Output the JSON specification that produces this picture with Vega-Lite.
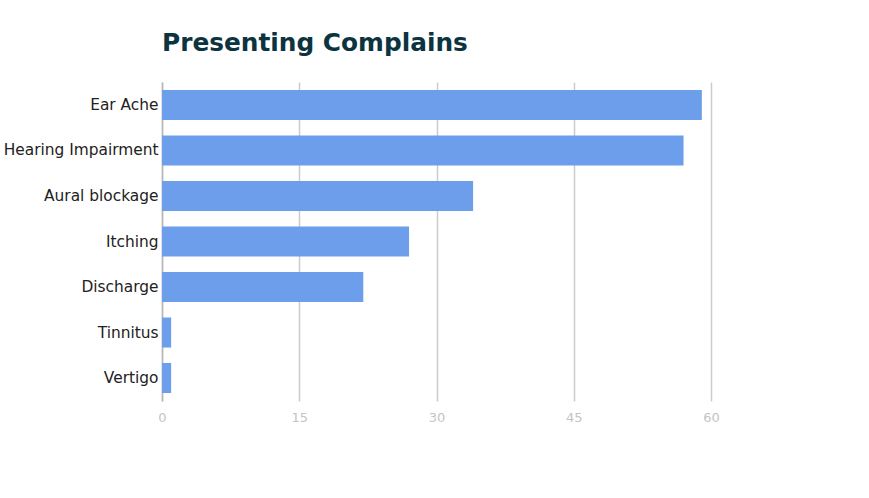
{
  "$schema": "https://vega.github.io/schema/vega-lite/v6.json",
  "autosize": {"type": "none"},
  "width": 549,
  "height": 319,
  "padding": {"left": 162, "top": 82, "right": 158, "bottom": 97},
  "background": "white",
  "title": {
    "text": "Presenting Complains",
    "anchor": "start",
    "frame": "group",
    "font": "DejaVu Sans",
    "fontSize": 24.8,
    "fontWeight": "bold",
    "color": "#0c3440",
    "offset": 26
  },
  "data": {
    "values": [
      {"complaint": "Ear Ache", "count": 59},
      {"complaint": "Hearing Impairment", "count": 57},
      {"complaint": "Aural blockage", "count": 34},
      {"complaint": "Itching", "count": 27},
      {"complaint": "Discharge", "count": 22},
      {"complaint": "Tinnitus", "count": 1},
      {"complaint": "Vertigo", "count": 1}
    ]
  },
  "mark": {"type": "bar", "color": "#6d9eeb"},
  "encoding": {
    "y": {
      "field": "complaint",
      "type": "nominal",
      "sort": null,
      "scale": {"paddingInner": 0.34, "paddingOuter": 0.175},
      "axis": {
        "title": null,
        "ticks": false,
        "domain": true,
        "domainColor": "#b7b7b7",
        "domainWidth": 1.5,
        "labelFont": "DejaVu Sans",
        "labelFontSize": 15.4,
        "labelColor": "#222222",
        "labelPadding": 4,
        "labelLimit": 0
      }
    },
    "x": {
      "field": "count",
      "type": "quantitative",
      "scale": {"domain": [0, 60], "nice": false},
      "axis": {
        "title": null,
        "values": [0, 15, 30, 45, 60],
        "ticks": false,
        "domain": false,
        "grid": true,
        "gridColor": "#cccccc",
        "gridWidth": 1.5,
        "labelFlush": false,
        "labelFont": "DejaVu Sans",
        "labelFontSize": 13,
        "labelColor": "#c4c4c4",
        "labelPadding": 10
      }
    }
  },
  "config": {"view": {"stroke": null}}
}
